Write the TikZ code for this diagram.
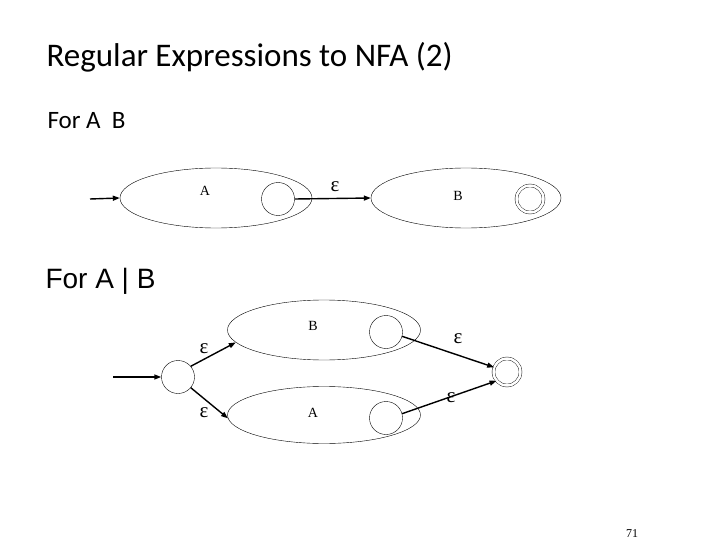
\documentclass[tikz,border=0pt]{standalone}
\usepackage{fontspec}
\setmainfont{Liberation Serif}
\newfontfamily\calfont{Carlito}
\newfontfamily\arialfont{Liberation Sans}
\usetikzlibrary{shapes.geometric,arrows.meta,positioning}
\tikzset{
  part/.style={ellipse, draw, thin, inner sep=0pt},
  state/.style={circle, draw, thin, minimum size=33pt, inner sep=0pt},
  accept/.style={state, double, double distance=2.5pt, minimum size=27pt},
  lbl/.style={font=\fontsize{14}{16}\selectfont},
  eps/.style={font=\fontsize{21}{22}\selectfont},
  arr/.style={-{Triangle[length=7pt,width=5pt]}, line width=1.4pt}
}
\begin{document}
\begin{tikzpicture}[x=1pt,y=-1pt]
\useasboundingbox (0,0) rectangle (720,540);
\node[anchor=base west, font=\calfont\fontsize{33}{35}\selectfont] (title) at (43,67) {Regular Expressions to NFA (2)};

% concatenation
\node[anchor=base west, font=\calfont\fontsize{25}{27}\selectfont] (cat) at (44,129) {For A\ \ B};
\node[part, minimum width=192pt, minimum height=60pt] (catA) at (216,198) {};
\node[part, minimum width=190pt, minimum height=60pt] (catB) at (466,198) {};
\node[state] (catAend) at (278,199) {};
\node[accept] (catfin) at (530,199) {};
\node[lbl] (catAlbl) at (205,191) {A};
\node[lbl] (catBlbl) at (458,196) {B};
\node[eps] (catEps) at (335,187) {ε};
\coordinate (catin) at (90,199);
\draw[arr] (catin) -- (catA.west);
\draw[arr] (catAend.east) -- (catB.west);

% alternation
\node[anchor=base west, font=\arialfont\fontsize{28}{30}\selectfont] (alt) at (42,288) {For A | B};
\node[state] (altstart) at (178,377) {};
\node[part, minimum width=193pt, minimum height=60pt] (altB) at (324,330) {};
\node[part, minimum width=193pt, minimum height=57pt] (altA) at (324,415) {};
\node[state] (altBend) at (386,332) {};
\node[state] (altAend) at (386,418) {};
\node[accept] (altfin) at (507,372) {};
\node[lbl] (altBlbl) at (313,326) {B};
\node[lbl] (altAlbl) at (313,413) {A};
\node[eps] (eps1) at (204,349) {ε};
\node[eps] (eps2) at (204,413) {ε};
\node[eps] (eps3) at (458,339) {ε};
\node[eps] (eps4) at (451,398) {ε};
\coordinate (altin) at (113,377);
\draw[arr] (altin) -- (altstart.west);
\draw[arr] (altstart.40) -- (altB.188);
\draw[arr] (altstart.-40) -- (altA.182);
\draw[arr] (altBend.-15) -- (altfin.160);
\draw[arr] (altAend.15) -- (altfin.220);

\node[font=\fontsize{12}{14}\selectfont] (page) at (632,534) {71};
\end{tikzpicture}
\end{document}
